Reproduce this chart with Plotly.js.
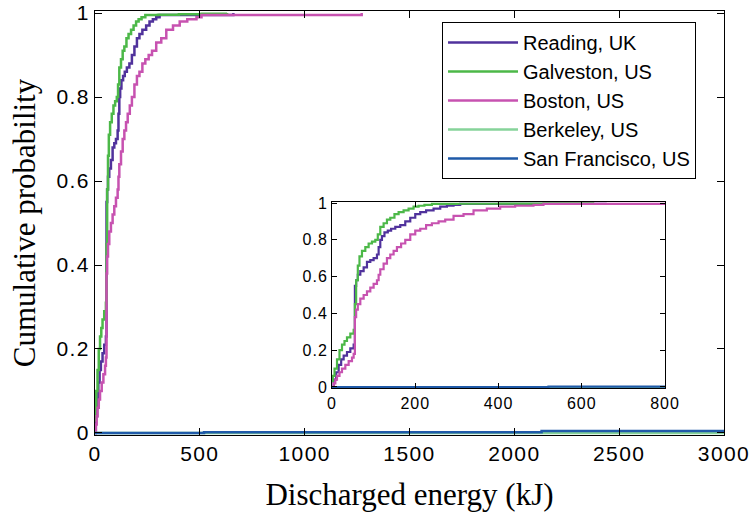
<!DOCTYPE html>
<html>
<head>
<meta charset="utf-8">
<script src="https://cdn.plot.ly/plotly-3.0.1.min.js"></script>
<style>
html,body{margin:0;padding:0;background:#fff;}
#chart .xtick text, #chart .ytick text{letter-spacing:1.4px;}
#chart .x2tick text, #chart .y2tick text{letter-spacing:1px;}
</style>
</head>
<body>
<div id="chart" style="width:754px;height:514px;"></div>
<script>
// Series names
const seriesNames = ["Reading, UK", "Galveston, US", "Boston, US", "Berkeley, US", "San Francisco, US"];

// Empirical CDF breakpoints (discharged energy in kJ, cumulative probability)
const readingX = [0, 4, 10, 16, 22, 28, 36, 44, 52, 55, 58, 62, 68, 76, 84, 92, 100, 108, 112, 116, 120, 126, 134, 142, 152, 164, 176, 188, 200, 212, 226, 244, 260, 276, 292, 308, 660];
const readingY = [0, 0.04, 0.08, 0.12, 0.15, 0.17, 0.19, 0.21, 0.23, 0.55, 0.58, 0.61, 0.63, 0.65, 0.68, 0.69, 0.70, 0.72, 0.76, 0.80, 0.82, 0.84, 0.85, 0.86, 0.87, 0.88, 0.90, 0.92, 0.94, 0.95, 0.96, 0.97, 0.98, 0.985, 0.99, 0.995, 1.0];

const galvestonX = [0, 2, 6, 12, 18, 24, 30, 36, 44, 52, 55, 58, 62, 66, 72, 80, 88, 96, 104, 110, 116, 124, 132, 140, 150, 160, 172, 184, 196, 208, 222, 240, 300, 400, 508, 630];
const galvestonY = [0.03, 0.06, 0.10, 0.15, 0.20, 0.23, 0.25, 0.27, 0.29, 0.31, 0.45, 0.58, 0.66, 0.71, 0.74, 0.76, 0.78, 0.79, 0.80, 0.83, 0.87, 0.89, 0.91, 0.92, 0.94, 0.95, 0.96, 0.97, 0.98, 0.985, 0.99, 0.995, 0.996, 0.997, 0.998, 1.0];

const bostonX = [0, 4, 8, 12, 18, 24, 32, 40, 48, 52, 55, 58, 62, 68, 76, 84, 92, 100, 108, 112, 116, 124, 132, 140, 148, 156, 166, 176, 188, 200, 212, 226, 240, 256, 272, 292, 316, 340, 372, 404, 440, 484, 508, 1272];
const bostonY = [0, 0.02, 0.04, 0.06, 0.08, 0.10, 0.12, 0.14, 0.16, 0.18, 0.38, 0.42, 0.45, 0.48, 0.50, 0.52, 0.54, 0.56, 0.58, 0.61, 0.64, 0.67, 0.70, 0.72, 0.74, 0.76, 0.78, 0.80, 0.83, 0.85, 0.86, 0.88, 0.89, 0.90, 0.91, 0.93, 0.94, 0.96, 0.97, 0.98, 0.985, 0.99, 0.995, 1.0];

const berkeleyX = [0, 3000];
const berkeleyY = [0, 0];

const sanFranciscoX = [0, 520, 2130, 3000];
const sanFranciscoY = [0, 0.002, 0.005, 0.005];

// Tick values
const mainXTicks = [0, 500, 1000, 1500, 2000, 2500, 3000];
const mainYTicks = [0, 0.2, 0.4, 0.6, 0.8, 1];
const insetXTicks = [0, 200, 400, 600, 800];
const insetYTicks = [0, 0.2, 0.4, 0.6, 0.8, 1];

const colors = ["#50329c", "#4cb848", "#c752b0", "#86d39a", "#1f5aa8"];
const xs = [readingX, galvestonX, bostonX, berkeleyX, sanFranciscoX];
const ys = [readingY, galvestonY, bostonY, berkeleyY, sanFranciscoY];

const traces = [];
for (let i = 0; i < xs.length; i++) {
  traces.push({
    x: xs[i], y: ys[i], name: seriesNames[i], type: "scatter", mode: "lines",
    line: {color: colors[i], width: 2.5, shape: "hv"},
    legendgroup: "g" + i, xaxis: "x", yaxis: "y"
  });
}
for (let i = 0; i < xs.length; i++) {
  traces.push({
    x: xs[i], y: ys[i], name: seriesNames[i], type: "scatter", mode: "lines",
    line: {color: colors[i], width: 2.2, shape: "hv"},
    showlegend: false, xaxis: "x2", yaxis: "y2"
  });
}

const tickFont = {family: "Arial, 'Liberation Sans', sans-serif", size: 21, color: "#000"};
const titleFont = {family: "'Times New Roman', 'Liberation Serif', serif", size: 31, color: "#000"};

const layout = {
  width: 754, height: 514,
  margin: {l: 95, r: 30, t: 11, b: 79},
  paper_bgcolor: "#fff", plot_bgcolor: "#fff",
  showlegend: true,
  legend: {
    x: 0.5517, y: 0.974, xanchor: "left", yanchor: "top",
    bordercolor: "#000", borderwidth: 1, bgcolor: "#fff",
    font: {family: "Arial, 'Liberation Sans', sans-serif", size: 20, color: "#000"},
    tracegroupgap: 0, itemwidth: 70
  },
  xaxis: {
    domain: [0, 1], range: [0, 3000], tickvals: mainXTicks,
    showline: true, linecolor: "#000", linewidth: 1, mirror: "ticks",
    ticks: "inside", ticklen: 7, tickcolor: "#000",
    showgrid: false, zeroline: false, tickfont: tickFont,
    title: {text: "Discharged energy (kJ)", font: titleFont, standoff: 19},
    automargin: false
  },
  yaxis: {
    domain: [0, 1], range: [-0.0048, 1.0048], tickvals: mainYTicks,
    showline: true, linecolor: "#000", linewidth: 1, mirror: "ticks",
    ticks: "inside", ticklen: 7, tickcolor: "#000",
    showgrid: false, zeroline: false, tickfont: tickFont,
    title: {text: "Cumulative probability", font: titleFont, standoff: 15},
    automargin: false
  },
  xaxis2: {
    domain: [0.3768, 0.9062], anchor: "y2", range: [0, 800], tickvals: insetXTicks,
    showline: true, linecolor: "#000", linewidth: 1, mirror: "ticks",
    ticks: "inside", ticklen: 5, tickcolor: "#000",
    showgrid: false, zeroline: false,
    tickfont: {family: "Arial, 'Liberation Sans', sans-serif", size: 16, color: "#000"}
  },
  yaxis2: {
    domain: [0.1097, 0.5507], anchor: "x2", range: [-0.0082, 1.0082], tickvals: insetYTicks,
    showline: true, linecolor: "#000", linewidth: 1, mirror: "ticks",
    ticks: "inside", ticklen: 5, tickcolor: "#000",
    showgrid: false, zeroline: false,
    tickfont: {family: "Arial, 'Liberation Sans', sans-serif", size: 16, color: "#000"}
  }
};

Plotly.newPlot("chart", traces, layout, {staticPlot: true, displayModeBar: false});
</script>
</body>
</html>
